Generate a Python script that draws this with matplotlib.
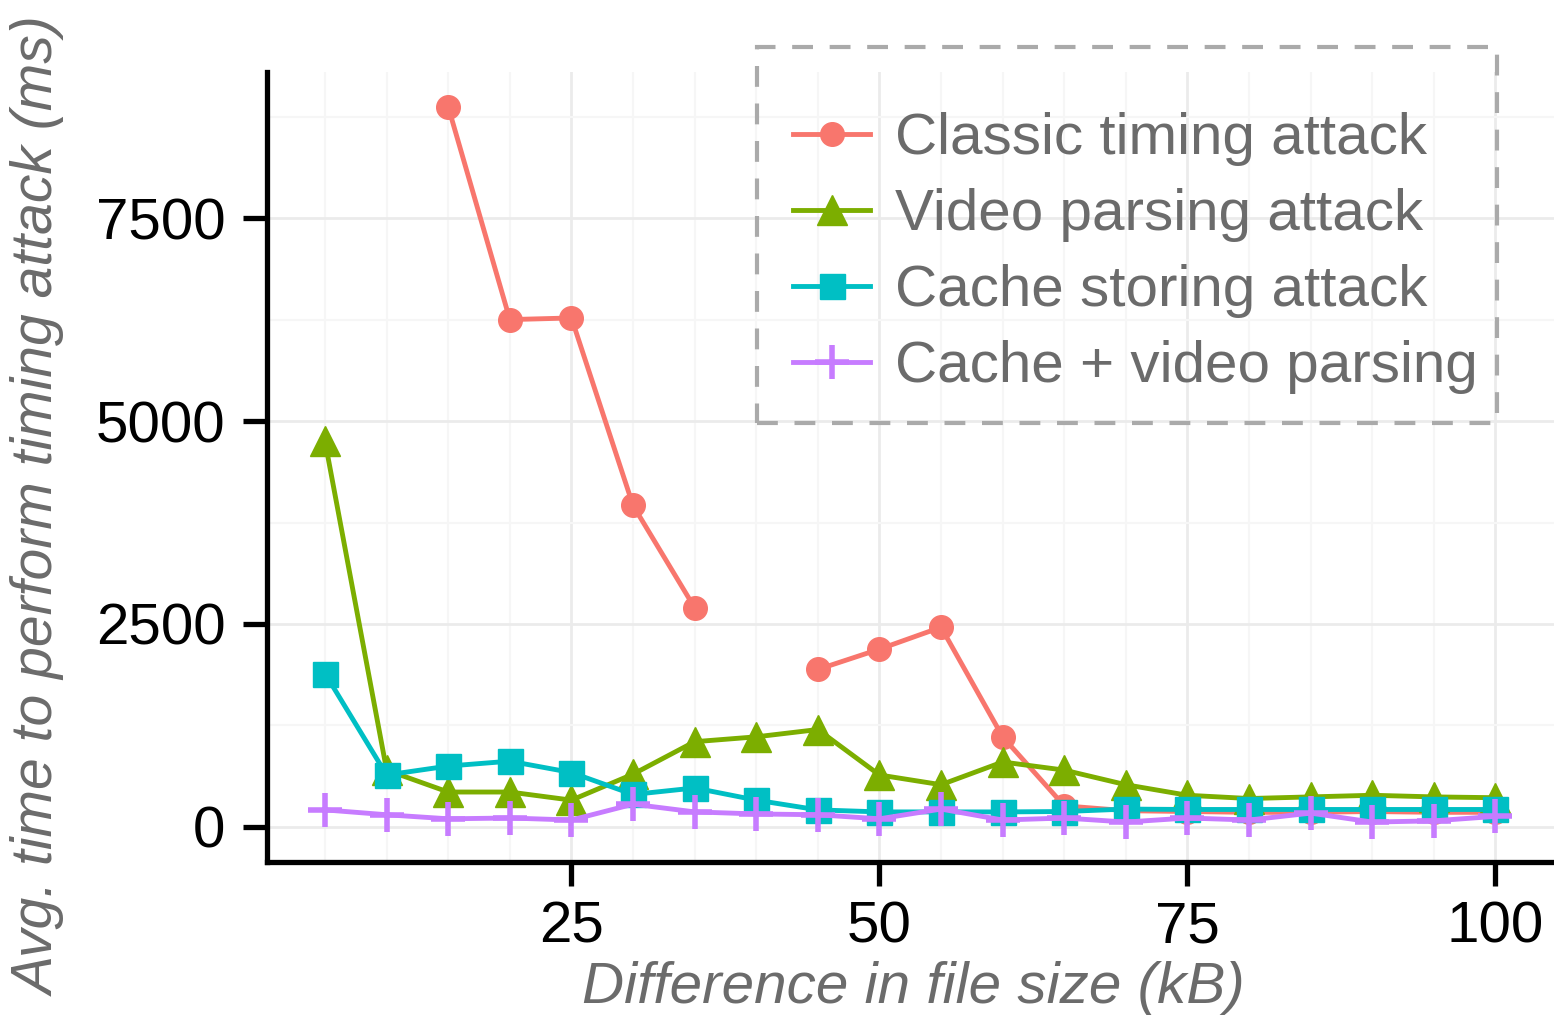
import matplotlib.pyplot as plt
import matplotlib.patches as patches
import numpy as np

plt.rcParams['font.family'] = ['Liberation Sans', 'DejaVu Sans']

x = np.arange(5, 101, 5)
classic = [np.nan, np.nan, 8870, 6250, 6270, 3960, 2700, np.nan, 1940, 2190,
           2460, 1110, 260, 200, 190, 180, 180, 190, 180, 180]
video = [4750, 700, 430, 430, 330, 650, 1050, 1110, 1200, 640,
         520, 800, 700, 520, 390, 350, 370, 390, 370, 360]
cache = [1890, 640, 750, 810, 670, 400, 480, 330, 210, 185,
         185, 185, 190, 220, 215, 215, 215, 215, 215, 215]
both = [210, 150, 100, 110, 85, 280, 185, 160, 150, 100,
        220, 85, 110, 60, 110, 85, 170, 60, 75, 130]

names = ["Classic timing attack", "Video parsing attack",
         "Cache storing attack", "Cache + video parsing"]
colors = ["#F8766D", "#7CAE00", "#00BFC4", "#C77CFF"]
gray = '#6b6b6b'

fig = plt.figure(figsize=(15.54, 10.18), dpi=100)
ax = fig.add_axes([267/1554, 1-862/1018, 1-267/1554, (862-72)/1018])

ax.plot(x, classic, '-o', color=colors[0], lw=3.5, ms=17, label=names[0])
ax.plot(x, video, '-^', color=colors[1], lw=3.5, ms=21, label=names[1])
ax.plot(x, cache, '-s', color=colors[2], lw=3.5, ms=18, label=names[2])
ax.plot(x, both, '-+', color=colors[3], lw=3.5, ms=24, mew=4, label=names[3])

ax.set_xlim(0.29, 104.75)
ax.set_ylim(-432, 9300)
ax.set_xticks([25, 50, 75, 100])
ax.set_yticks([0, 2500, 5000, 7500])
ax.set_xticks([v for v in range(5, 101, 5) if v % 25], minor=True)
ax.set_yticks([1250, 3750, 6250, 8750], minor=True)
ax.grid(which='major', color='#ebebeb', lw=2)
ax.grid(which='minor', color='#f6f6f6', lw=1.5)
ax.set_axisbelow(True)

for s in ['top', 'right']:
    ax.spines[s].set_visible(False)
for s in ['left', 'bottom']:
    ax.spines[s].set_linewidth(3.8)
ax.tick_params(which='major', length=17, width=3.8, labelsize=42, colors='black')
ax.tick_params(axis='x', pad=11)
ax.tick_params(axis='y', pad=13)
ax.tick_params(which='minor', length=0)

fig.text(913/1554, 1-988/1018, "Difference in file size (kB)", fontsize=42,
         style='italic', color=gray, ha='center', va='center')
fig.text(40/1554, 1-507/1018, "Avg. time to perform timing attack (ms)", fontsize=41,
         style='italic', color=gray, ha='center', va='center', rotation=90)

leg = ax.legend(loc='upper left', bbox_to_anchor=(793/1554, 1-112/1018),
                bbox_transform=fig.transFigure, fontsize=42, frameon=False,
                labelcolor=gray, handlelength=1.32, borderpad=0, borderaxespad=0,
                labelspacing=0.38, handletextpad=0.43)

box = patches.Rectangle((757/1554, 1-423/1018), 740/1554, 376/1018,
                        transform=fig.transFigure, fill=False, edgecolor='#aaaaaa',
                        lw=3, linestyle=(0, (5, 4)), clip_on=False)
fig.add_artist(box)

fig.savefig('out.png', dpi=100)
